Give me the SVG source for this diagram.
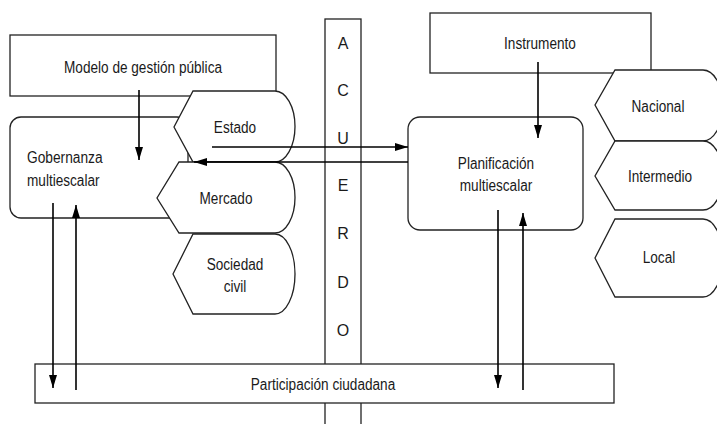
<svg xmlns="http://www.w3.org/2000/svg" width="717" height="424" viewBox="0 0 717 424">
<defs>
<style>
.box{fill:#fff;stroke:#222;stroke-width:1.3}
.t{font-family:"Liberation Sans",Arial,sans-serif;font-size:16px;fill:#1a1a1a;text-anchor:middle}
.tl{text-anchor:start}
.c{stroke:#000;stroke-width:1.6;fill:none}
</style>
<marker id="ah" viewBox="0 0 10 10" refX="10" refY="5" markerWidth="13" markerHeight="8" markerUnits="userSpaceOnUse" orient="auto" preserveAspectRatio="none">
<path d="M0,0 L10,5 L0,10 Z" fill="#000"/>
</marker>
</defs>
<rect width="717" height="424" fill="#fff"/>

<g id="acuerdo">
<rect class="box" x="325" y="19" width="36" height="420"/>
<text class="t" x="343" y="49">A</text>
<text class="t" x="343" y="96">C</text>
<text class="t" x="343" y="144">U</text>
<text class="t" x="343" y="191">E</text>
<text class="t" x="343" y="239">R</text>
<text class="t" x="343" y="288">D</text>
<text class="t" x="343" y="336">O</text>
</g>

<g id="modelo">
<rect class="box" x="10" y="35" width="266" height="61"/>
<text class="t" x="143" y="73" textLength="158" lengthAdjust="spacingAndGlyphs">Modelo de gestión pública</text>
</g>

<g id="gobernanza">
<rect class="box" x="10" y="117" width="178" height="101" rx="11"/>
<text class="t tl" x="27" y="163" textLength="75.6" lengthAdjust="spacingAndGlyphs">Gobernanza</text>
<text class="t tl" x="27" y="186" textLength="72.5" lengthAdjust="spacingAndGlyphs">multiescalar</text>
</g>

<g id="estado">
<path class="box" d="M193,91 L275,91 A20,35.5 0 0 1 275,162 L193,162 L174,127 Z"/>
<text class="t" x="235" y="133" textLength="42.3" lengthAdjust="spacingAndGlyphs">Estado</text>
</g>

<g id="mercado">
<path class="box" d="M179,162 L275,162 A20,35.5 0 0 1 275,233 L179,233 L157,198 Z"/>
<text class="t" x="226" y="204" textLength="52.9" lengthAdjust="spacingAndGlyphs">Mercado</text>
</g>

<g id="sociedad">
<path class="box" d="M193,234 L275,234 A20,40 0 0 1 275,314 L193,314 L173,274 Z"/>
<text class="t" x="235" y="270" textLength="56.7" lengthAdjust="spacingAndGlyphs">Sociedad</text>
<text class="t" x="235" y="292" textLength="22.7" lengthAdjust="spacingAndGlyphs">civil</text>
</g>

<g id="instrumento">
<rect class="box" x="430" y="13" width="221" height="60"/>
<text class="t" x="540" y="49" textLength="71.8" lengthAdjust="spacingAndGlyphs">Instrumento</text>
</g>

<g id="planificacion">
<rect class="box" x="408" y="117" width="175" height="113" rx="12"/>
<text class="t" x="496" y="169" textLength="76.3" lengthAdjust="spacingAndGlyphs">Planificación</text>
<text class="t" x="496" y="191" textLength="72.5" lengthAdjust="spacingAndGlyphs">multiescalar</text>
</g>

<g id="nacional">
<path class="box" d="M615,70 L703,70 A20,35.5 0 0 1 703,141 L615,141 L595,105 Z"/>
<text class="t" x="658" y="112" textLength="52.9" lengthAdjust="spacingAndGlyphs">Nacional</text>
</g>

<g id="intermedio">
<path class="box" d="M615,141 L703,141 A20,34.5 0 0 1 703,210 L615,210 L595,176 Z"/>
<text class="t" x="660" y="182" textLength="64.2" lengthAdjust="spacingAndGlyphs">Intermedio</text>
</g>

<g id="local">
<path class="box" d="M615,219 L703,219 A20,39 0 0 1 703,297 L615,297 L595,258 Z"/>
<text class="t" x="659" y="263" textLength="32.5" lengthAdjust="spacingAndGlyphs">Local</text>
</g>

<g id="participacion">
<rect class="box" x="35" y="364" width="579" height="39"/>
<text class="t" x="323" y="390" textLength="144.4" lengthAdjust="spacingAndGlyphs">Participación ciudadana</text>
</g>

<g id="connectors">
<line class="c" x1="139" y1="90" x2="139" y2="160" marker-end="url(#ah)"/>
<line class="c" x1="538" y1="62" x2="538" y2="138" marker-end="url(#ah)"/>
<line class="c" x1="212" y1="147" x2="408" y2="147" marker-end="url(#ah)"/>
<line class="c" x1="408" y1="162" x2="194" y2="162" marker-end="url(#ah)"/>
<line class="c" x1="53" y1="203" x2="53" y2="388" marker-end="url(#ah)"/>
<line class="c" x1="76" y1="390" x2="76" y2="205" marker-end="url(#ah)"/>
<line class="c" x1="498" y1="210" x2="498" y2="388" marker-end="url(#ah)"/>
<line class="c" x1="523" y1="390" x2="523" y2="213" marker-end="url(#ah)"/>
</g>
</svg>
